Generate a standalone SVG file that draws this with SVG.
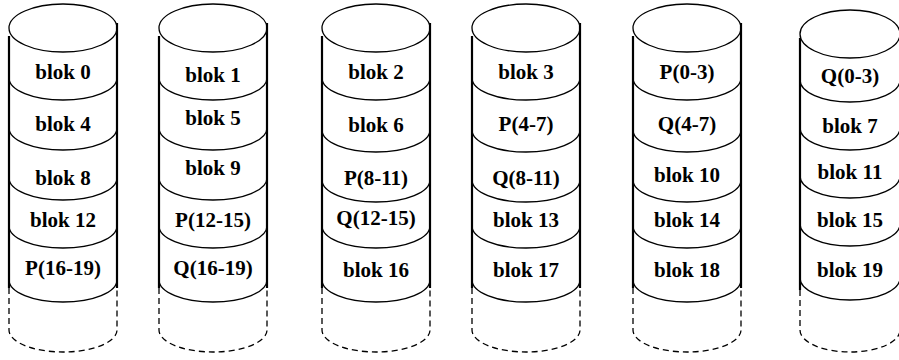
<svg xmlns="http://www.w3.org/2000/svg" width="899" height="360" viewBox="0 0 899 360">
<style>
.bg{fill:#fff}
.top{fill:#fff;stroke:#000;stroke-width:1.3}
.arc{fill:none;stroke:#000;stroke-width:1.3}
.side{fill:none;stroke:#000;stroke-width:2.2}
.dash{fill:none;stroke:#000;stroke-width:1.3;stroke-dasharray:6 4}
text{font-family:"Liberation Serif","Times New Roman",serif;font-weight:bold;font-size:21px;text-anchor:middle;fill:#000}
</style>
<rect class="bg" x="0" y="0" width="899" height="360"/>
<g id="disk0">
<ellipse class="top" cx="63" cy="28" rx="54" ry="24"/>
<path class="side" d="M9,36 V288 M117,23 V288"/>
<path class="arc" d="M9,78 A54,22 0 0 0 117,78 M9,128 A54,22 0 0 0 117,128 M9,178 A54,22 0 0 0 117,178 M9,226 A54,22 0 0 0 117,226 M9,280 A54,22 0 0 0 117,280"/>
<path class="dash" d="M9,288 V330 A54,22 0 0 0 117,330 V288"/>
<text x="63" y="79">blok 0</text>
<text x="63" y="131">blok 4</text>
<text x="63" y="185">blok 8</text>
<text x="63" y="227">blok 12</text>
<text x="63" y="275">P(16-19)</text>
</g>
<g id="disk1">
<ellipse class="top" cx="213" cy="28" rx="54" ry="24"/>
<path class="side" d="M159,36 V288 M267,23 V288"/>
<path class="arc" d="M159,78 A54,22 0 0 0 267,78 M159,128 A54,22 0 0 0 267,128 M159,178 A54,22 0 0 0 267,178 M159,226 A54,22 0 0 0 267,226 M159,280 A54,22 0 0 0 267,280"/>
<path class="dash" d="M159,288 V330 A54,22 0 0 0 267,330 V288"/>
<text x="213" y="82">blok 1</text>
<text x="213" y="125">blok 5</text>
<text x="213" y="175">blok 9</text>
<text x="213" y="227">P(12-15)</text>
<text x="213" y="275">Q(16-19)</text>
</g>
<g id="disk2">
<ellipse class="top" cx="376" cy="28" rx="54" ry="24"/>
<path class="side" d="M322,36 V288 M430,23 V288"/>
<path class="arc" d="M322,78 A54,22 0 0 0 430,78 M322,130 A54,22 0 0 0 430,130 M322,180 A54,22 0 0 0 430,180 M322,226 A54,22 0 0 0 430,226 M322,280 A54,22 0 0 0 430,280"/>
<path class="dash" d="M322,288 V330 A54,22 0 0 0 430,330 V288"/>
<text x="376" y="79">blok 2</text>
<text x="376" y="132">blok 6</text>
<text x="376" y="185">P(8-11)</text>
<text x="376" y="225">Q(12-15)</text>
<text x="376" y="277">blok 16</text>
</g>
<g id="disk3">
<ellipse class="top" cx="526" cy="28" rx="54" ry="24"/>
<path class="side" d="M472,36 V288 M580,23 V288"/>
<path class="arc" d="M472,78 A54,22 0 0 0 580,78 M472,130 A54,22 0 0 0 580,130 M472,180 A54,22 0 0 0 580,180 M472,226 A54,22 0 0 0 580,226 M472,280 A54,22 0 0 0 580,280"/>
<path class="dash" d="M472,288 V330 A54,22 0 0 0 580,330 V288"/>
<text x="526" y="79">blok 3</text>
<text x="526" y="131">P(4-7)</text>
<text x="526" y="185">Q(8-11)</text>
<text x="526" y="227">blok 13</text>
<text x="526" y="277">blok 17</text>
</g>
<g id="disk4">
<ellipse class="top" cx="687" cy="28" rx="54" ry="24"/>
<path class="side" d="M633,36 V288 M741,23 V288"/>
<path class="arc" d="M633,78 A54,22 0 0 0 741,78 M633,130 A54,22 0 0 0 741,130 M633,180 A54,22 0 0 0 741,180 M633,226 A54,22 0 0 0 741,226 M633,280 A54,22 0 0 0 741,280"/>
<path class="dash" d="M633,288 V330 A54,22 0 0 0 741,330 V288"/>
<text x="687" y="79">P(0-3)</text>
<text x="687" y="131">Q(4-7)</text>
<text x="687" y="182">blok 10</text>
<text x="687" y="227">blok 14</text>
<text x="687" y="277">blok 18</text>
</g>
<g id="disk5">
<ellipse class="top" cx="850" cy="34" rx="50" ry="24"/>
<path class="side" d="M800,38 V290 M901,26 V290"/>
<path class="arc" d="M800,80 A50,22 0 0 0 900,80 M800,128 A50,22 0 0 0 900,128 M800,176 A50,22 0 0 0 900,176 M800,224 A50,22 0 0 0 900,224 M800,278 A50,22 0 0 0 900,278"/>
<path class="dash" d="M800,290 V330 A50,22 0 0 0 900,330 V290"/>
<text x="850" y="83">Q(0-3)</text>
<text x="850" y="133">blok 7</text>
<text x="850" y="179">blok 11</text>
<text x="850" y="227">blok 15</text>
<text x="850" y="277">blok 19</text>
</g>
</svg>
